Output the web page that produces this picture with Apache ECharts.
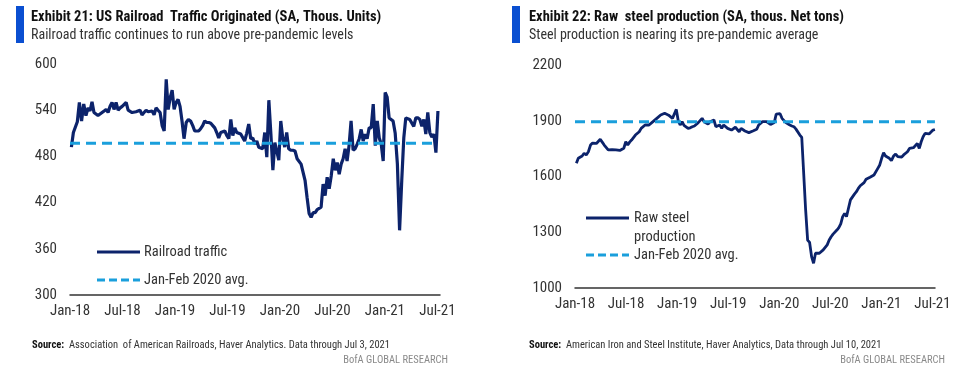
<!DOCTYPE html>
<html>
<head>
<meta charset="utf-8">
<script src="https://cdn.jsdelivr.net/npm/echarts@6/dist/echarts.min.js"></script>
<style>
html,body{margin:0;padding:0;background:#fff;}
#c{width:961px;height:386px;}
</style>
</head>
<body>
<div id="c"></div>
<script>
// ---------- data ----------
var railStart = [2018, 0, 6];   // first week ending date (Jan 6, 2018)
var railValues = [
492,511,511,525,550,526,548,533,543,539,551,537,535,533,535,537,539,541,537,545,
550,541,550,540,543,545,543,550,540,538,537,539,538,537,540,534,537,540,538,537,
539,534,543,540,537,520,513,580,541,556,566,541,550,554,545,526,503,524,528,526,
520,513,515,513,516,520,526,524,524,523,520,517,511,504,511,512,513,507,503,528,
507,517,511,513,509,509,500,510,522,503,504,496,500,492,494,490,511,479,553,509,
462,498,500,475,526,504,492,511,490,488,488,487,477,476,470,468,449,427,406,401,
407,407,411,410,414,444,429,453,438,455,477,462,472,457,470,477,490,474,494,526,
488,490,496,503,515,500,509,503,517,517,548,494,526,504,496,474,563,557,530,528,
526,510,470,384,449,504,530,529,528,526,519,530,530,528,519,528,509,537,511,505,
509,485,539
];
var railAvg = 497;

var steelStart = [2018, 0, 6];
var steelValues = [
1671,1698,1689,1710,1725,1716,1733,1769,1780,1787,1778,1787,1800,1785,1769,1760,1743,1733,1745,1752,
1743,1752,1740,1733,1752,1787,1769,1785,1796,1805,1823,1832,1841,1859,1868,1877,1877,1877,1877,1895,
1904,1913,1922,1931,1937,1940,1937,1930,1922,1913,1915,1961,1900,1877,1895,1875,1868,1859,1862,1868,
1872,1877,1890,1895,1913,1895,1890,1882,1895,1900,1904,1868,1872,1877,1859,1877,1868,1859,1855,1850,
1859,1865,1868,1841,1859,1850,1845,1841,1836,1832,1845,1850,1854,1877,1886,1895,1895,1895,1895,1880,
1872,1891,1936,1940,1938,1913,1904,1890,1886,1877,1872,1868,1855,1845,1823,1810,1617,1420,1258,1245,
1169,1133,1187,1178,1187,1196,1205,1214,1232,1258,1276,1290,1300,1312,1325,1345,1384,1401,1384,1429,
1474,1480,1505,1518,1536,1550,1558,1567,1585,1590,1596,1602,1608,1617,1644,1662,1698,1728,1710,1705,
1698,1685,1710,1721,1707,1698,1705,1716,1725,1733,1751,1751,1755,1760,1778,1751,1787,1814,1832,1830,
1829,1835,1850,1853
];
var steelAvg = 1895;

var xTickLabels = ['Jan-18','Jul-18','Jan-19','Jul-19','Jan-20','Jul-20','Jan-21','Jul-21'];
var railYTicks = [300, 360, 420, 480, 540, 600];
var steelYTicks = [1000, 1300, 1600, 1900, 2200];

// ---------- helpers ----------
function monthPos(d) {
  var y = d.getFullYear(), m = d.getMonth(), day = d.getDate();
  var dim = new Date(y, m + 1, 0).getDate();
  return (y - 2018) * 12 + m + (day - 1) / dim;
}
function weekly(start, values) {
  return values.map(function (v, i) {
    var d = new Date(start[0], start[1], start[2] + 7 * i);
    return [monthPos(d), v];
  });
}
var railData = weekly(railStart, railValues);
var steelData = weekly(steelStart, steelValues);
var railEnd = railData[railData.length - 1][0];
var steelEnd = steelData[steelData.length - 1][0];

var FONT = '"Liberation Sans Narrow", "Roboto Condensed", "Open Sans", sans-serif';
var NAVY = '#0c236b';
var LBLUE = '#1a9fdc';
var BARBLUE = '#0a4fd1';
var TXT = '#333333';

function xAxisCfg(gi) {
  return {
    type: 'value', gridIndex: gi, min: 0, max: 42.3, interval: 6,
    axisLine: { show: true, lineStyle: { color: '#333', width: 1.5 } },
    axisTick: { show: false }, splitLine: { show: false },
    axisLabel: {
      color: TXT, fontFamily: FONT, fontSize: 15, margin: 9,
      showMaxLabel: false,
      formatter: function (v) {
        if (Math.abs(v / 6 - Math.round(v / 6)) > 1e-6) return '';
        return xTickLabels[Math.round(v / 6)] || '';
      }
    }
  };
}
function yAxisCfg(gi, ticks) {
  return {
    type: 'value', gridIndex: gi, min: ticks[0], max: ticks[ticks.length - 1],
    interval: ticks[1] - ticks[0],
    axisLine: { show: false }, axisTick: { show: false }, splitLine: { show: false },
    axisLabel: {
      color: TXT, fontFamily: FONT, fontSize: 15, margin: 13,
      formatter: function (v) { return String(v); }
    }
  };
}

function legendLine(x, y, dashed) {
  return {
    type: 'line', shape: { x1: x, y1: y, x2: x + 43, y2: y },
    style: { stroke: dashed ? LBLUE : NAVY, lineWidth: 3, lineDash: dashed ? [8, 4] : null }
  };
}
function txt(x, y, s, size, opts) {
  opts = opts || {};
  return {
    type: 'text', x: x, y: y,
    style: {
      text: s, fill: opts.fill || TXT, fontFamily: FONT, fontSize: size,
      fontWeight: opts.bold ? 'bold' : 'normal',
      textAlign: opts.align || 'left', textVerticalAlign: 'middle',
      rich: opts.rich
    }
  };
}

var chart = echarts.init(document.getElementById('c'), null, { renderer: 'canvas' });
chart.setOption({
  animation: false,
  backgroundColor: '#fff',
  grid: [
    { left: 70, top: 64, width: 370, height: 231 },
    { left: 575, top: 65, width: 360, height: 223 }
  ],
  xAxis: [xAxisCfg(0), xAxisCfg(1)],
  yAxis: [yAxisCfg(0, railYTicks), yAxisCfg(1, steelYTicks)],
  series: [
    {
      name: 'Railroad traffic', type: 'line', xAxisIndex: 0, yAxisIndex: 0,
      data: railData, showSymbol: false, symbol: 'none',
      lineStyle: { color: NAVY, width: 3.2 }, z: 3
    },
    {
      name: 'Jan-Feb 2020 avg.', type: 'line', xAxisIndex: 0, yAxisIndex: 0,
      data: [[0, railAvg], [railEnd, railAvg]], showSymbol: false, symbol: 'none',
      lineStyle: { color: LBLUE, width: 3, type: [10, 6] }, z: 4
    },
    {
      name: 'Raw steel production', type: 'line', xAxisIndex: 1, yAxisIndex: 1,
      data: steelData, showSymbol: false, symbol: 'none',
      lineStyle: { color: NAVY, width: 2.8 }, z: 3
    },
    {
      name: 'Jan-Feb 2020 avg. ', type: 'line', xAxisIndex: 1, yAxisIndex: 1,
      data: [[0, steelAvg], [steelEnd, steelAvg]], showSymbol: false, symbol: 'none',
      lineStyle: { color: LBLUE, width: 3, type: [10, 6] }, z: 4
    }
  ],
  graphic: [
    { type: 'rect', shape: { x: 16, y: 6, width: 8, height: 37 }, style: { fill: BARBLUE } },
    txt(31, 17, 'Exhibit 21: US Railroad  Traffic Originated (SA, Thous. Units)', 14.5, { bold: true, fill: '#111' }),
    txt(31, 35, 'Railroad traffic continues to run above pre-pandemic levels', 14),
    { type: 'rect', shape: { x: 512, y: 6, width: 8, height: 37 }, style: { fill: BARBLUE } },
    txt(529, 17, 'Exhibit 22: Raw  steel production (SA, thous. Net tons)', 14.5, { bold: true, fill: '#111' }),
    txt(529, 35, 'Steel production is nearing its pre-pandemic average', 14),

    legendLine(97, 252, false), txt(144, 252, 'Railroad traffic', 14.5),
    legendLine(97, 280, true), txt(144, 280, 'Jan-Feb 2020 avg.', 14.5),

    legendLine(586, 218, false), txt(634, 218, 'Raw steel', 14.5), txt(634, 237, 'production', 14.5),
    legendLine(586, 255, true), txt(634, 255, 'Jan-Feb 2020 avg.', 14.5),

    txt(32, 345, '{b|Source:}  Association  of American Railroads, Haver Analytics. Data through Jul 3, 2021', 10.5,
        { rich: { b: { fontWeight: 'bold', fontFamily: FONT, fontSize: 10.5, fill: '#111' } } }),
    txt(448, 360, 'BofA GLOBAL RESEARCH', 10.5, { align: 'right', fill: '#8a8a8a' }),
    txt(529, 345, '{b|Source:}  American Iron and Steel Institute, Haver Analytics, Data through Jul 10, 2021', 10.5,
        { rich: { b: { fontWeight: 'bold', fontFamily: FONT, fontSize: 10.5, fill: '#111' } } }),
    txt(945, 360, 'BofA GLOBAL RESEARCH', 10.5, { align: 'right', fill: '#8a8a8a' })
  ]
});
</script>
</body>
</html>
